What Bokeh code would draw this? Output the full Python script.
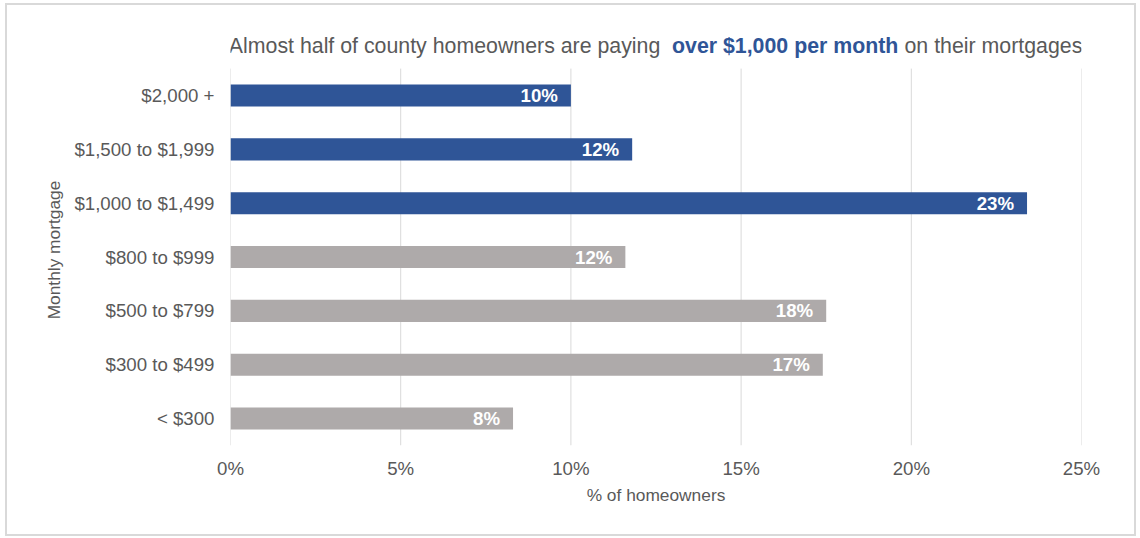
from bokeh.plotting import figure
from bokeh.models import ColumnDataSource, FixedTicker, PrintfTickFormatter, Range1d
from bokeh.core.properties import value
from bokeh.embed import file_html
from bokeh.resources import INLINE

# ---- data ----
categories = ["< $300", "$300 to $499", "$500 to $799", "$800 to $999",
              "$1,000 to $1,499", "$1,500 to $1,999", "$2,000 +"]
shares = [8.3, 17.4, 17.5, 11.6, 23.4, 11.8, 10.0]
group = ["under", "under", "under", "under", "over", "over", "over"]
x_ticks = [0, 5, 10, 15, 20, 25]

title_parts = ["Almost half of county homeowners are paying", "over $1,000 per month", "on their mortgages."]
x_title = "% of homeowners"
y_title = "Monthly mortgage"

BLUE = "#2F5597"
GRAY = "#AEAAAA"
TEXT = "#595959"
GRID = "#D9D9D9"
FONT = "Liberation Sans"

n = len(categories)
pos = list(range(n))
colors = [BLUE if g == "over" else GRAY for g in group]
labels = [f"{round(v):d}%" for v in shares]

src = ColumnDataSource(dict(pos=pos, share=shares, color=colors, label=labels))

# layout (pixels)
ROW = 53.7                   # pixels per category row
TITLE_ROOM = 38              # frame extends above the first bar row to host the title
top_end = n - 0.5 + TITLE_ROOM / ROW

p = figure(width=1131, height=533, title=None,
           x_range=Range1d(0, 25), y_range=Range1d(-0.5, top_end),
           output_backend="svg", toolbar_location=None,
           min_border_left=223, min_border_right=57, min_border_top=25, min_border_bottom=93)
p.styles = {"margin-left": "5px", "margin-top": "3px",
            "border": "2px solid #D9D9D9", "box-sizing": "border-box"}
p.outline_line_color = None
p.background_fill_color = "white"
p.border_fill_color = "white"
p.xgrid.grid_line_color = None
p.ygrid.grid_line_color = None

# vertical gridlines limited to the bar rows
p.segment(x0=x_ticks, x1=x_ticks, y0=[-0.5] * len(x_ticks), y1=[n - 0.5] * len(x_ticks),
          line_color=GRID, line_width=1)

p.hbar(y="pos", right="share", left=0, height=0.41, color="color", line_color=None, source=src)
p.text(x="share", y="pos", text="label", source=src, x_offset=-13,
       text_align="right", text_baseline="middle", text_color="white",
       text_font=value(FONT), text_font_style="bold", text_font_size="18.67px")

# axes
p.xaxis.ticker = FixedTicker(ticks=x_ticks)
p.xaxis.formatter = PrintfTickFormatter(format="%d%%")
p.yaxis.ticker = FixedTicker(ticks=pos)
p.yaxis.major_label_overrides = {i: c for i, c in zip(pos, categories)}
for ax in (p.xaxis[0], p.yaxis[0]):
    ax.axis_line_color = None
    ax.major_tick_line_color = None
    ax.minor_tick_line_color = None
    ax.major_tick_out = 0
    ax.major_tick_in = 0
    ax.major_label_text_font = FONT
    ax.major_label_text_font_size = "18.67px"
    ax.major_label_text_color = TEXT
    ax.axis_label_text_font = FONT
    ax.axis_label_text_font_size = "17.33px"
    ax.axis_label_text_color = TEXT
    ax.axis_label_text_font_style = "normal"
p.xaxis.major_label_standoff = 12
p.xaxis.axis_label = x_title
p.xaxis.axis_label_standoff = 3
p.yaxis.major_label_standoff = 16
# trailing no-break spaces centre the label on the bar rows rather than on the whole frame
p.yaxis.axis_label = y_title + "\u00a0" * 5
p.yaxis.axis_label_standoff = 7

# title in three styled runs
ty = n - 0.5 + 23 / ROW
tstyle = dict(y=ty, text_font=value(FONT), text_font_size="21.33px",
              text_baseline="alphabetic", text_align="left")
p.text(x=[-0.05], text=[title_parts[0]], text_color=TEXT, **tstyle)
p.text(x=[12.97], text=[title_parts[1]], text_color=BLUE, text_font_style="bold", **tstyle)
p.text(x=[19.80], text=[title_parts[2]], text_color=TEXT, **tstyle)

open("out.html", "w").write(file_html(p, INLINE))
